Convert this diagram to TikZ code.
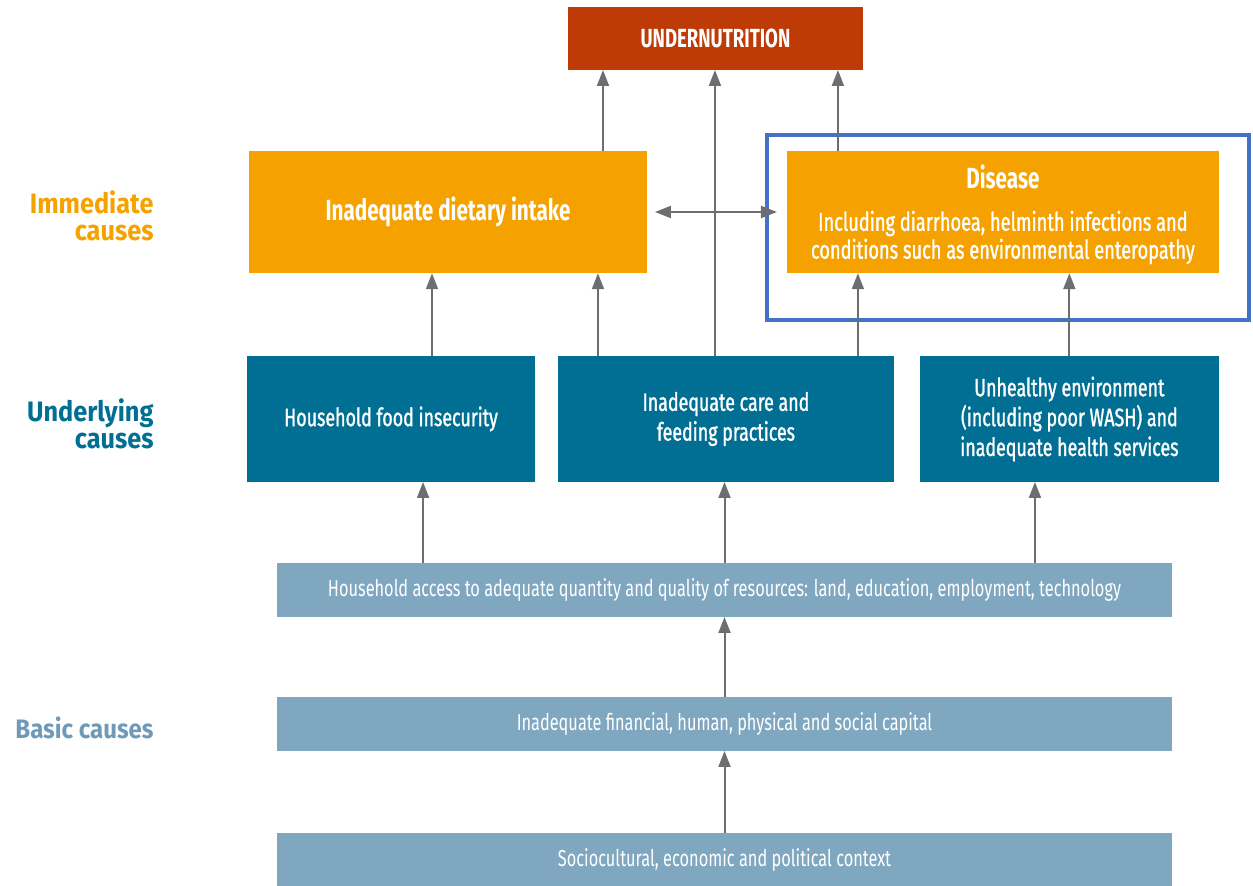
\documentclass[tikz,border=0pt]{standalone}
\usepackage{fontspec}
\setmainfont{Fira Sans}[FakeStretch=0.71]
\newfontfamily\medfont{Fira Sans}[FakeStretch=0.71,FakeBold=1.2]
\newfontfamily\lblfont{Fira Sans}[FakeStretch=0.9]
\usepackage{tikz}
\usetikzlibrary{arrows.meta,positioning,calc}
\definecolor{undercol}{RGB}{190,58,6}
\definecolor{immcol}{RGB}{245,162,0}
\definecolor{undcol}{RGB}{0,111,147}
\definecolor{basiccol}{RGB}{127,167,192}
\definecolor{basiclbl}{RGB}{110,154,184}
\definecolor{arrcol}{RGB}{109,110,113}
\definecolor{hilite}{RGB}{68,114,196}

\begin{document}
\begin{tikzpicture}[x=0.02cm,y=-0.02cm,outer sep=0pt,inner sep=2pt]
      \tikzset{topbox/.style={align=center,shape=rectangle,fill=undercol,text=white,font=\fontsize{14.9}{17}\selectfont\bfseries,minimum width=5.9cm,minimum height=1.26cm}}
      \tikzset{immbox/.style={align=center,shape=rectangle,fill=immcol,text=white,minimum height=2.45cm}}
      \tikzset{undbox/.style={align=center,shape=rectangle,fill=undcol,text=white,font=\medfont\fontsize{14.3}{17}\selectfont,minimum height=2.52cm}}
      \tikzset{basicbar/.style={align=center,shape=rectangle,fill=basiccol,text=white,font=\fontsize{13.1}{15}\selectfont,minimum width=17.9cm,minimum height=1.08cm}}
      \tikzset{lbl/.style={align=right,anchor=east,font=\lblfont\fontsize{16}{15.5}\selectfont\bfseries}}
      \tikzset{arr/.style={draw=arrcol,line width=0.04cm,-{Triangle[width=0.24cm,length=0.32cm]}}}

      \useasboundingbox (0,0) rectangle (1253,885);

      % top
      \node [topbox] (undernut) at (715.5,38.5) {UNDERNUTRITION};

      % immediate causes
      \node [immbox,minimum width=7.96cm,font=\fontsize{16.6}{18}\selectfont\bfseries] (diet) at (448,212) {Inadequate dietary intake};
      \node [immbox,minimum width=8.64cm,right=2.8cm of diet,font=\medfont\fontsize{14.6}{15.9}\selectfont] (disease) {\rule{0pt}{16.5pt}{\rmfamily\fontsize{16.6}{18}\selectfont\bfseries Disease}\\[8pt]
        Including diarrhoea, helminth infections and\\
        conditions such as environmental enteropathy};
      \draw [hilite,line width=0.08cm] (767,135) rectangle (1249,320);

      % underlying causes
      \node [undbox,minimum width=5.76cm] (food) at (391,419) {Household food insecurity};
      \node [undbox,minimum width=6.72cm,right=0.46cm of food] (care) {Inadequate care and\\feeding practices};
      \node [undbox,minimum width=5.98cm,right=0.52cm of care] (unhealthy) {Unhealthy environment\\(including poor WASH) and\\inadequate health services};

      % basic causes
      \node [basicbar] (access) at (724.5,590) {Household access to adequate quantity and quality of resources: land, education, employment, technology};
      \node [basicbar,below=1.6cm of access] (capital) {Inadequate financial, human, physical and social capital};
      \node [basicbar,below=1.64cm of capital] (socio) {Sociocultural, economic and political context};

      % side labels
      \node [lbl,text=immcol] (immlbl) at (157,216) {Immediate\\causes};
      \node [lbl,text=undcol] (undlbl) at (157,424) {Underlying\\causes};
      \node [lbl,text=basiclbl,font=\lblfont\fontsize{15.2}{15.5}\selectfont\bfseries] (basiclbl) at (157,728) {Basic causes};

      % arrows
      \draw [arr] ([xshift=3.1cm]diet.north) -- ([xshift=3.1cm]diet.north |- undernut.south);
      \draw [arr] ([xshift=-0.22cm]care.north) -- ([xshift=-0.22cm]care.north |- undernut.south);
      \draw [arr] ([xshift=-3.3cm]disease.north) -- ([xshift=-3.3cm]disease.north |- undernut.south);
      \draw [arr,{Triangle[width=0.24cm,length=0.32cm]}-{Triangle[width=0.24cm,length=0.32cm]}] ([xshift=0.16cm]diet.east) -- ([xshift=-0.2cm]disease.west);
      \draw [arr] ([xshift=0.82cm]food.north) -- ([xshift=0.82cm]food.north |- diet.south);
      \draw [arr] ([xshift=-2.56cm]care.north) -- ([xshift=-2.56cm]care.north |- diet.south);
      \draw [arr] ([xshift=2.64cm]care.north) -- ([xshift=2.64cm]care.north |- disease.south);
      \draw [arr] (unhealthy.north) -- (unhealthy.north |- disease.south);
      \draw [arr] ([xshift=-6.03cm]access.north) -- ([xshift=-6.03cm]access.north |- food.south);
      \draw [arr] (access.north) -- (access.north |- care.south);
      \draw [arr] ([xshift=6.21cm]access.north) -- ([xshift=6.21cm]access.north |- unhealthy.south);
      \draw [arr] (capital.north) -- (access.south);
      \draw [arr] (socio.north) -- (capital.south);
    \end{tikzpicture}
\end{document}
